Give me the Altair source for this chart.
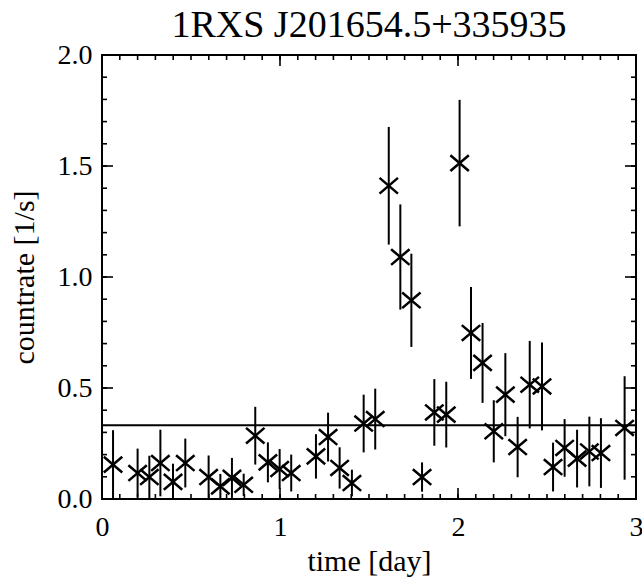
import altair as alt
import pandas as pd

TITLE = "1RXS J201654.5+335935"
X_TITLE = "time [day]"
Y_TITLE = "countrate [1/s]"

time_day = [0.062, 0.200, 0.266, 0.328, 0.399, 0.468, 0.599, 0.665, 0.730, 0.796,
            0.861, 0.932, 0.998, 1.063, 1.202, 1.270, 1.335, 1.404, 1.470, 1.535,
            1.611, 1.676, 1.738, 1.798, 1.867, 1.934, 2.009, 2.073, 2.138, 2.201,
            2.266, 2.335, 2.403, 2.472, 2.534, 2.599, 2.669, 2.738, 2.803, 2.936]
countrate = [0.155, 0.117, 0.099, 0.162, 0.077, 0.162, 0.099, 0.057, 0.095, 0.064,
             0.285, 0.165, 0.135, 0.117, 0.192, 0.279, 0.140, 0.072, 0.340, 0.360,
             1.411, 1.090, 0.895, 0.099, 0.390, 0.380, 1.513, 0.748, 0.613, 0.305,
             0.470, 0.234, 0.515, 0.507, 0.144, 0.230, 0.182, 0.214, 0.207, 0.320]
error = [0.155, 0.110, 0.096, 0.150, 0.082, 0.110, 0.097, 0.056, 0.090, 0.050,
         0.130, 0.090, 0.090, 0.083, 0.100, 0.110, 0.093, 0.060, 0.130, 0.137,
         0.265, 0.237, 0.210, 0.066, 0.150, 0.148, 0.285, 0.207, 0.180, 0.140,
         0.187, 0.136, 0.197, 0.198, 0.110, 0.130, 0.130, 0.157, 0.157, 0.233]
mean_level = [0.332]

x_major = [0, 1, 2, 3]
x_minor = [i / 10 for i in range(0, 31)]
y_major = [0.0, 0.5, 1.0, 1.5, 2.0]
y_minor = [i / 10 for i in range(0, 21)]

FONT = "'Liberation Serif', 'Times New Roman', Times, serif"
W, H = 534, 444

df = pd.DataFrame({"t": time_day, "c": countrate, "e": error})
df["lo"] = df["c"] - df["e"]
df["hi"] = df["c"] + df["e"]

xs = alt.Scale(domain=[0, 3], nice=False, zero=False)
ys = alt.Scale(domain=[0, 2], nice=False, zero=False)

xaxis = alt.Axis(values=x_major, format="d", ticks=False, tickSize=0, domain=False, grid=False,
                 labelFont=FONT, labelFontSize=28, labelPadding=36, labelBaseline="alphabetic",
                 labelColor="black", title=X_TITLE, titleFont=FONT, titleFontSize=30,
                 titleFontWeight="normal", titleColor="black", titleBaseline="alphabetic",
                 titleY=71, labelFlush=False)
yaxis = alt.Axis(values=y_major, format=".1f", ticks=False, tickSize=0, domain=False, grid=False,
                 labelFont=FONT, labelFontSize=28, labelPadding=10, labelColor="black",
                 title=Y_TITLE, titleFont=FONT, titleFontSize=30, titleFontWeight="normal",
                 titleColor="black", titleBaseline="alphabetic", titleX=-69, titleY=H / 2,
                 labelFlush=False)

base = alt.Chart(df)

errbars = base.mark_rule(color="black", strokeWidth=2, clip=True).encode(
    x=alt.X("t:Q", scale=xs, axis=xaxis),
    y=alt.Y("lo:Q", scale=ys, axis=yaxis),
    y2="hi:Q",
)

XPATH = "M-1,-0.85L1,0.85M-1,0.85L1,-0.85"
points = base.mark_point(shape=XPATH, size=340, stroke="black", strokeWidth=2.5,
                         filled=False, opacity=1, clip=True).encode(
    x=alt.X("t:Q", scale=xs),
    y=alt.Y("c:Q", scale=ys),
)

hline = alt.Chart(pd.DataFrame({"m": mean_level})).mark_rule(color="black", strokeWidth=2).encode(
    y=alt.Y("m:Q", scale=ys)
)

title_text = alt.Chart(pd.DataFrame({"label": [TITLE]})).mark_text(
    font=FONT, fontSize=38, color="black", align="center", baseline="alphabetic"
).encode(text="label:N", x=alt.value(W / 2), y=alt.value(-18))

def yticks(vals, length):
    d = pd.DataFrame({"v": vals})
    left = alt.Chart(d).mark_rule(color="black", strokeWidth=1.6).encode(
        y=alt.Y("v:Q", scale=ys), x=alt.value(0), x2=alt.value(length))
    right = alt.Chart(d).mark_rule(color="black", strokeWidth=1.6).encode(
        y=alt.Y("v:Q", scale=ys), x=alt.value(W), x2=alt.value(W - length))
    return [left, right]

def xticks(vals, length):
    d = pd.DataFrame({"v": vals})
    bottom = alt.Chart(d).mark_rule(color="black", strokeWidth=1.6).encode(
        x=alt.X("v:Q", scale=xs), y=alt.value(H), y2=alt.value(H - length))
    top = alt.Chart(d).mark_rule(color="black", strokeWidth=1.6).encode(
        x=alt.X("v:Q", scale=xs), y=alt.value(0), y2=alt.value(length))
    return [bottom, top]

layers = [errbars, points, hline, title_text] + yticks(y_minor, 5) + yticks(y_major, 11) \
    + xticks(x_minor, 5) + xticks(x_major, 11)

chart = alt.layer(*layers).properties(
    width=W, height=H,
    autosize=alt.AutoSizeParams(type="none"),
    padding={"left": 102, "top": 55, "right": 6, "bottom": 85},
    background="white",
).configure_view(stroke="black", strokeWidth=2)

chart.save("out.html", embed_options={"renderer": "svg", "actions": False})
